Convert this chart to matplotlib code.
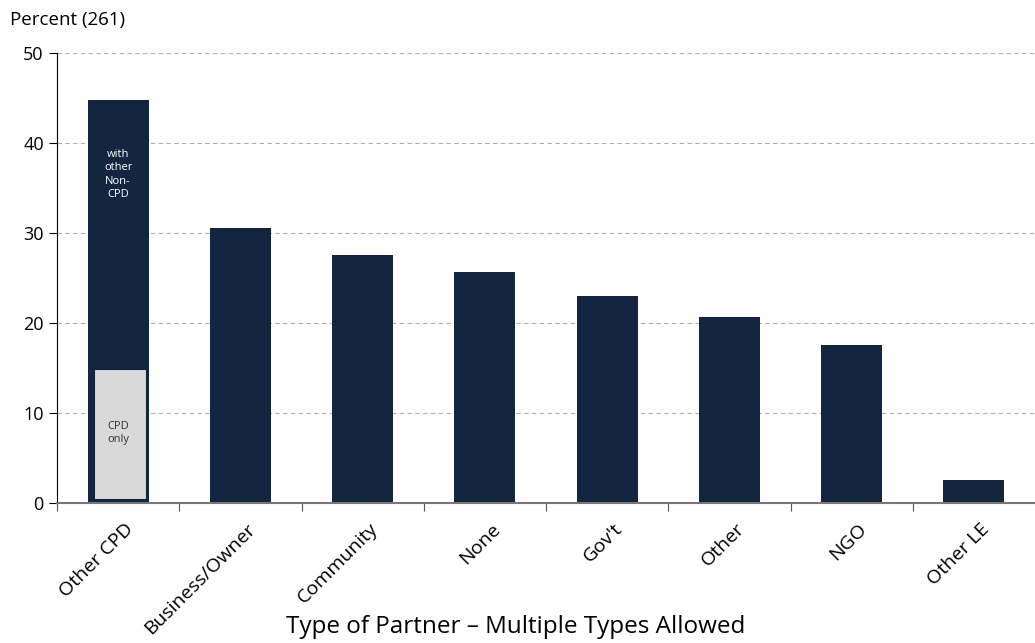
import numpy as np
import matplotlib.pyplot as plt

categories = ["Other CPD", "Business/Owner", "Community", "None", "Gov't", "Other", "NGO", "Other LE"]
values = [44.8, 30.6, 27.6, 25.7, 23.0, 20.7, 17.6, 2.6]
cpd_only = 15.0

navy = "#13253F"
grey = "#D9D9D9"
plt.rcParams['font.family'] = ['Open Sans', 'DejaVu Sans']

fig = plt.figure(figsize=(10.35, 6.43), dpi=100)
ax = fig.add_axes([57 / 1035, 1 - 503 / 643, 1 - 57 / 1035, 450 / 643])

x = np.arange(len(categories))
ax.bar(x, values, width=0.5, color=navy, zorder=2)
ax.bar(x[0] + 0.02, cpd_only - 0.4, bottom=0.3, width=0.44, color=grey,
       edgecolor=navy, linewidth=1.5, zorder=3)

ax.text(x[0], 36.5, "with\nother\nNon-\nCPD", color="white", ha="center", va="center",
        fontsize=8, linespacing=1.3, zorder=4)
ax.text(x[0], 7.8, "CPD\nonly", color="#333333", ha="center", va="center",
        fontsize=8, linespacing=1.3, zorder=4)

ax.set_xlim(-0.5, len(categories) - 0.5)
ax.set_ylim(0, 50)
ax.set_yticks([0, 10, 20, 30, 40, 50])
ax.tick_params(axis='y', labelsize=13, length=6, direction='out', color='black')
ax.yaxis.grid(True, linestyle=(0, (4, 3)), color='#B0B0B0', linewidth=0.8, zorder=0)

ax.set_xticks(x - 0.5)
ax.set_xticklabels([])
ax.tick_params(axis='x', which='major', length=6, direction='out', color='#555555')
ax.set_xticks(x + 0.05, minor=True)
ax.set_xticklabels(categories, minor=True, rotation=45, ha='right',
                   rotation_mode='anchor', fontsize=14)
ax.tick_params(axis='x', which='minor', length=0, pad=12)

for s in ['top', 'right']:
    ax.spines[s].set_visible(False)
ax.spines['left'].set_color('black')
ax.spines['bottom'].set_color('#777777')
ax.spines['bottom'].set_linewidth(1.5)

fig.text(10 / 1035, 1 - 20 / 643, "Percent (261)", fontsize=13.5, va='center', ha='left')
fig.text(516 / 1035, 1 - 627 / 643, "Type of Partner \u2013 Multiple Types Allowed",
         fontsize=17.5, ha='center', va='center')

fig.savefig("out.png", dpi=100)
